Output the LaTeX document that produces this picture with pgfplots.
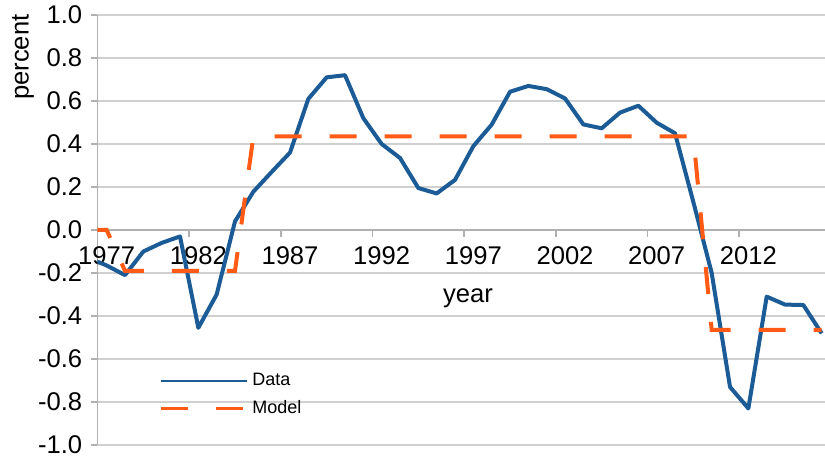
\documentclass[border=0pt]{standalone}
\usepackage{pgfplots}
\pgfplotsset{compat=1.18}
\usepackage{fontspec}
\setmainfont{Liberation Sans}
\definecolor{datablue}{HTML}{1C5C96}
\definecolor{modelorange}{HTML}{FF5A16}
\definecolor{gridgray}{HTML}{D0D0D0}
\begin{document}
\begin{tikzpicture}
\begin{axis}[
  scale only axis,
  width=363.75pt, height=215pt,
  xmin=1976.5, xmax=2016.18,
  ymin=-1, ymax=1,
  axis x line=middle,
  axis y line=left,
  axis line style={draw=gridgray!85!black, line width=0.75pt, -},
  hide obscured x ticks=false,
  hide obscured y ticks=false,
  tick align=outside,
  major tick length=3.5pt,
  tick style={draw=gridgray!85!black, line width=0.75pt},
  xtick={1976.5,1981.5,1986.5,1991.5,1996.5,2001.5,2006.5,2011.5},
  xticklabels={1977,1982,1987,1992,1997,2002,2007,2012},
  ytick={-1,-0.8,-0.6,-0.4,-0.2,0,0.2,0.4,0.6,0.8,1},
  yticklabels={-1.0,-0.8,-0.6,-0.4,-0.2,0.0,0.2,0.4,0.6,0.8,1.0},
  ymajorgrids,
  major grid style={draw=gridgray, line width=0.75pt},
  ticklabel style={font=\fontsize{12.8}{15}\selectfont},
  xticklabel style={xshift=4.58pt, yshift=-1.3pt},
  yticklabel style={xshift=-0.6pt},
  legend style={draw=none, fill=none, inner sep=0pt,
    font=\fontsize{9}{11}\selectfont,
    at={(axis cs:1979.9,-0.767)}, anchor=west,
    row sep=2pt},
  legend cell align=left,
  legend image code/.code={\draw[#1, line width=1.1pt] (0pt,0pt) -- (43pt,0pt);},
]
\addplot[datablue, line width=2pt, line join=round] coordinates {
(1976,-0.13) (1977,-0.165) (1978,-0.21) (1979,-0.10) (1980,-0.06) (1981,-0.03)
(1982,-0.455) (1983,-0.30) (1984,0.04) (1985,0.178) (1986,0.27) (1987,0.36)
(1988,0.61) (1989,0.71) (1990,0.72) (1991,0.52) (1992,0.40) (1993,0.335)
(1994,0.195) (1995,0.17) (1996,0.233) (1997,0.39) (1998,0.49) (1999,0.643)
(2000,0.67) (2001,0.655) (2002,0.612) (2003,0.491) (2004,0.473) (2005,0.546)
(2006,0.578) (2007,0.499) (2008,0.45) (2009,0.13) (2010,-0.20) (2011,-0.73)
(2012,-0.83) (2013,-0.31) (2014,-0.347) (2015,-0.349) (2016,-0.481)
};
\addlegendentry{Data}
\addplot[modelorange, line width=2pt, dash pattern=on 13.5pt off 14pt] coordinates {
(1976,0) (1977,0) (1978,-0.19) (1979,-0.19) (1980,-0.19) (1981,-0.19)
(1982,-0.19) (1983,-0.19) (1984,-0.19) (1985,0.435) (1986,0.435) (1987,0.435)
(1988,0.435) (1989,0.435) (1990,0.435) (1991,0.435) (1992,0.435) (1993,0.435)
(1994,0.435) (1995,0.435) (1996,0.435) (1997,0.435) (1998,0.435) (1999,0.435)
(2000,0.435) (2001,0.435) (2002,0.435) (2003,0.435) (2004,0.435) (2005,0.435)
(2006,0.435) (2007,0.435) (2008,0.435) (2009,0.435) (2010,-0.465) (2011,-0.465)
(2012,-0.465) (2013,-0.465) (2014,-0.465) (2015,-0.465) (2016,-0.465)
};
\addlegendentry{Model}
\node[anchor=base, font=\fontsize{12.8}{15}\selectfont] at (axis cs:1996.71,-0.335) {year};
\coordinate (pl) at (rel axis cs:0,0.902);
\coordinate (bl) at (rel axis cs:0,0);
\coordinate (tr) at (rel axis cs:1,1);
\end{axis}
\node[rotate=90, font=\fontsize{12.8}{15}\selectfont] at ([xshift=-37.25pt]pl) {percent};
\pgfresetboundingbox
\path ([shift={(-48.75pt,-7.5pt)}]bl) rectangle ([shift={(0pt,7.5pt)}]tr);
\end{tikzpicture}
\end{document}
